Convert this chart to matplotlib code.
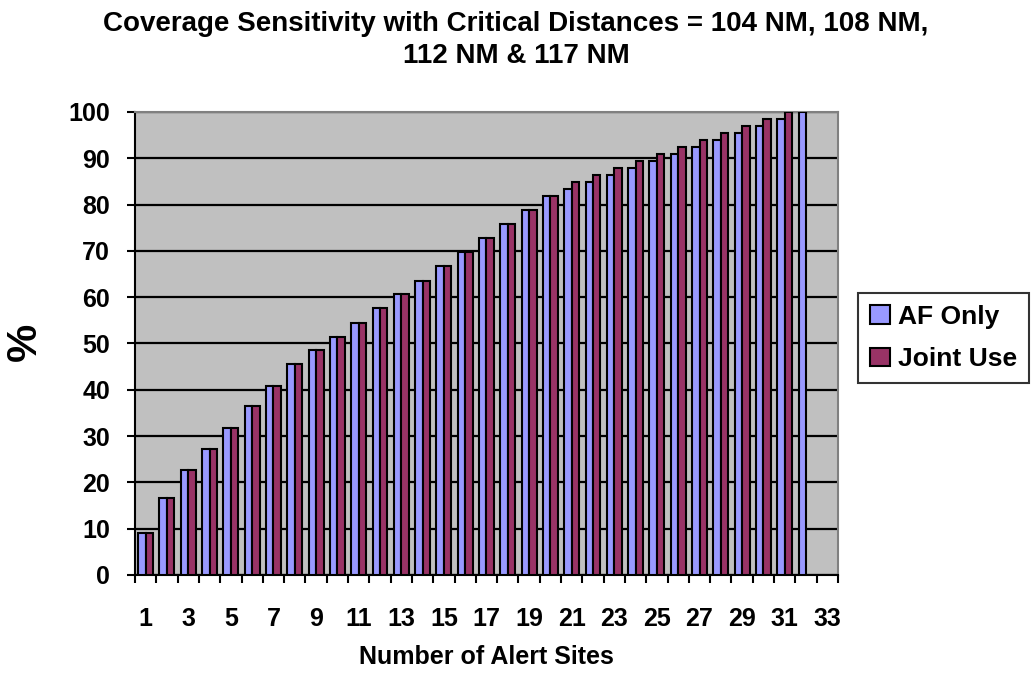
import numpy as np
import matplotlib
matplotlib.use("Agg")
import matplotlib.pyplot as plt

plt.rcParams['font.family'] = ['Liberation Sans', 'DejaVu Sans']
plt.rcParams['font.weight'] = 'bold'

# data
sites = list(range(1, 34))
af_only = [9.1, 16.7, 22.7, 27.3, 31.8, 36.4, 40.9, 45.5, 48.5, 51.5,
           54.5, 57.6, 60.6, 63.6, 66.7, 69.7, 72.7, 75.8, 78.8, 81.8,
           83.3, 84.8, 86.4, 87.9, 89.4, 90.9, 92.4, 93.9, 95.5, 97.0,
           98.5, 100.0, np.nan]
joint_use = [9.1, 16.7, 22.7, 27.3, 31.8, 36.4, 40.9, 45.5, 48.5, 51.5,
             54.5, 57.6, 60.6, 63.6, 66.7, 69.7, 72.7, 75.8, 78.8, 81.8,
             84.8, 86.4, 87.9, 89.4, 90.9, 92.4, 93.9, 95.5, 97.0, 98.5,
             100.0, np.nan, np.nan]
x_labels = [str(s) if s % 2 == 1 else "" for s in sites]

fig = plt.figure(figsize=(10.32, 6.77), dpi=100)
ax = fig.add_axes([0.1308, 0.1507, 0.6812, 0.6839])
ax.set_facecolor('#C0C0C0')

x = np.array(sites)
w = 0.35
ax.bar(x - w / 2, af_only, w, color='#9999FF', edgecolor='black', linewidth=1.5,
       label='AF Only', zorder=3)
ax.bar(x + w / 2, joint_use, w, color='#993366', edgecolor='black', linewidth=1.5,
       label='Joint Use', zorder=3)

ax.set_xlim(0.5, 33.5)
ax.set_ylim(0, 100)
ax.set_yticks(range(0, 101, 10))
ax.yaxis.grid(True, color='black', linewidth=1.6, zorder=1)
ax.set_axisbelow(True)

ax.set_xticks(x)
ax.set_xticklabels(x_labels)
ax.set_xticks(np.arange(0.5, 34, 1), minor=True)
ax.tick_params(axis='x', which='major', length=0, pad=23, labelsize=18)
ax.tick_params(axis='x', which='minor', length=6, width=1.5, direction='out')
ax.tick_params(axis='y', length=6, width=1.5, direction='out', pad=12, labelsize=18)

for s in ['left', 'bottom']:
    ax.spines[s].set_color('black')
    ax.spines[s].set_linewidth(1.5)
for s in ['top', 'right']:
    ax.spines[s].set_color('#808080')
    ax.spines[s].set_linewidth(1.5)

fig.text(486 / 1032, 1 - 657 / 677, "Number of Alert Sites", fontsize=18,
         fontweight='bold', ha='center', va='center')
fig.text(25 / 1032, 1 - 342 / 677, "%", fontsize=31, fontweight='bold',
         rotation=90, ha='center', va='center')

fig.text(0.5, 1 - 11 / 677,
         "Coverage Sensitivity with Critical Distances = 104 NM, 108 NM,\n112 NM & 117 NM",
         fontsize=20, fontweight='bold', ha='center', va='top', linespacing=1.3)

leg = ax.legend(loc='upper left', bbox_to_anchor=(858 / 1032, 1 - 293 / 677),
                bbox_transform=fig.transFigure, fontsize=19,
                frameon=True, fancybox=False, edgecolor='black',
                handlelength=0.75, handleheight=0.7, handletextpad=0.3,
                borderpad=0.45, labelspacing=0.7, borderaxespad=0)
leg.get_frame().set_linewidth(1.5)
for t in leg.get_texts():
    t.set_fontweight('bold')

fig.savefig("out.png", dpi=100)
